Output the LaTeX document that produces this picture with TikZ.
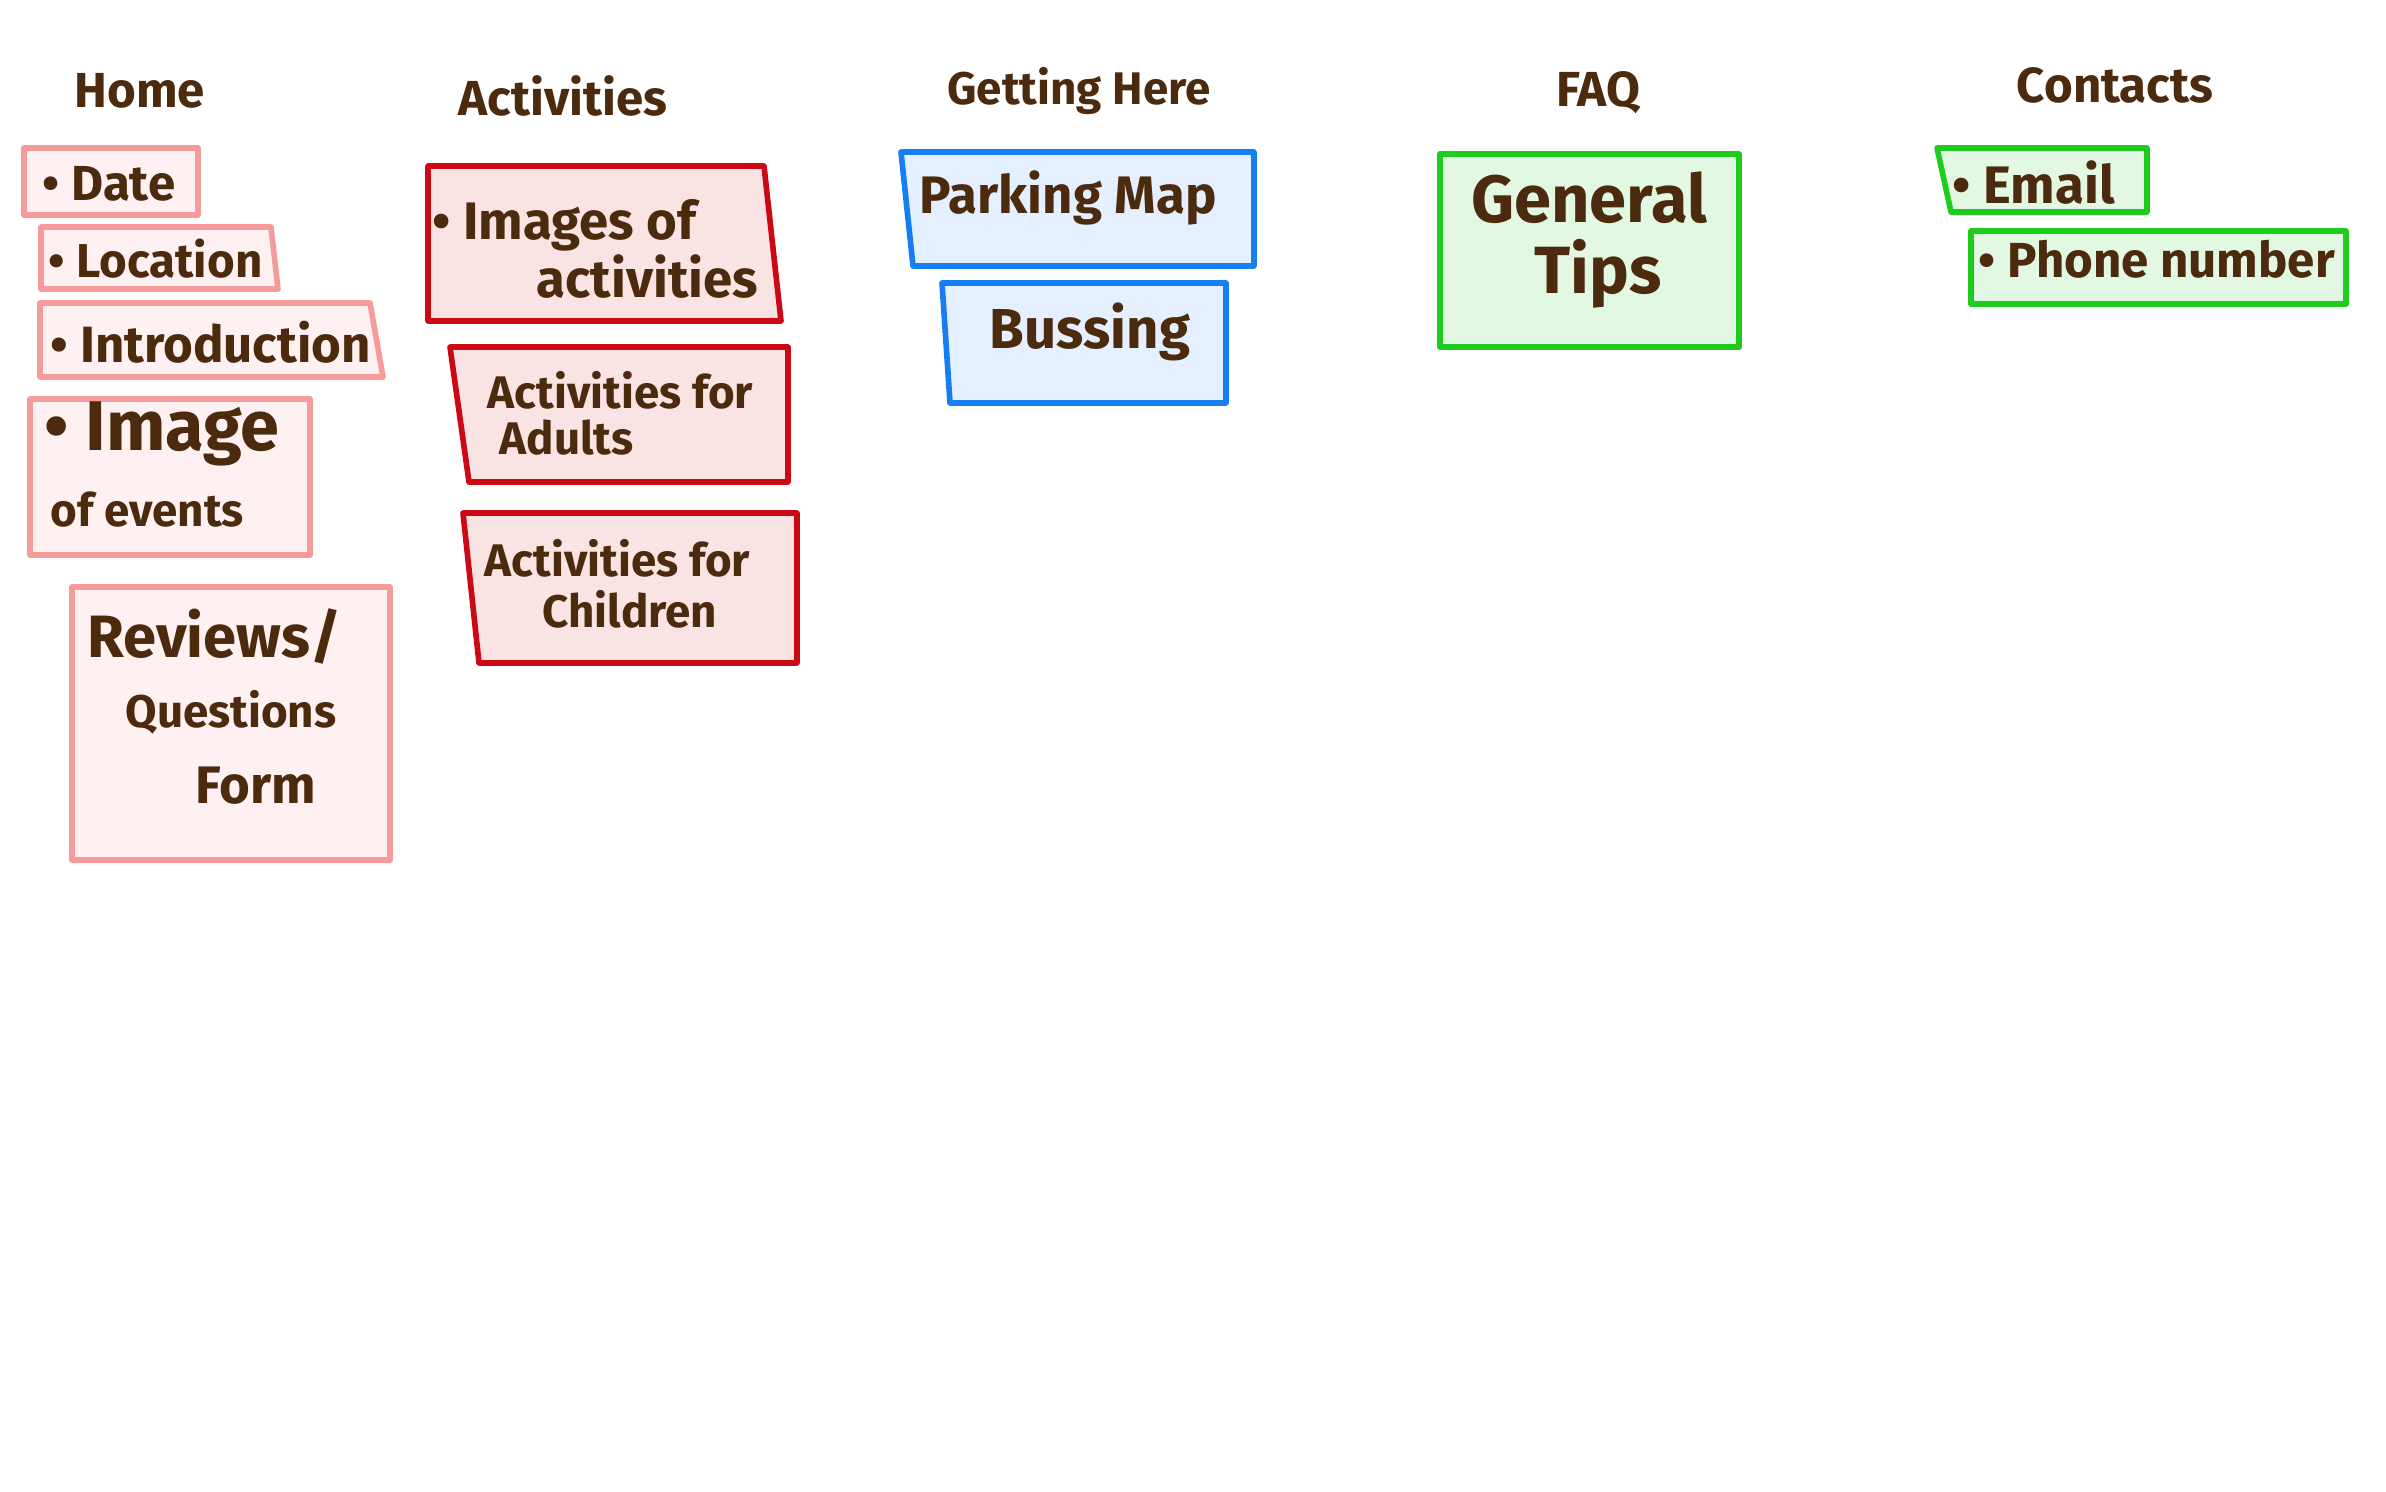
\documentclass[tikz,border=0pt]{standalone}
\usepackage{fontspec}
\setmainfont{Fira Sans}
\definecolor{ink}{RGB}{75,42,14}
\definecolor{homeline}{RGB}{246,154,154}
\definecolor{homefill}{RGB}{255,241,241}
\definecolor{actline}{RGB}{204,8,20}
\definecolor{actfill}{RGB}{249,227,227}
\definecolor{getline}{RGB}{22,126,240}
\definecolor{getfill}{RGB}{228,240,255}
\definecolor{grnline}{RGB}{30,204,30}
\definecolor{grnfill}{RGB}{227,248,227}
\tikzset{
  box/.style={line width=1.6pt, line join=round},
  homebox/.style={box, draw=homeline, fill=homefill},
  actbox/.style={box, draw=actline, fill=actfill},
  getbox/.style={box, draw=getline, fill=getfill},
  grnbox/.style={box, draw=grnline, fill=grnfill},
  txt/.style={text=ink, font=\bfseries, inner sep=0pt},
  ttl/.style={txt, font=\bfseries\fontsize{14}{16}\selectfont},
  fs/.style={font=\bfseries\fontsize{#1}{#1}\selectfont}
}
\begin{document}
\begin{tikzpicture}[x=0.01cm, y=-0.01cm]
\useasboundingbox (0,0) rectangle (2386,1491);

% titles
\node[ttl] (tHome) at (140,91) {Home};
\node[ttl] (tAct) at (563,96) {Activities};
\node[ttl, fs=13] (tGet) at (1079,91) {Getting Here};
\node[ttl] (tFAQ) at (1598,93) {FAQ};
\node[ttl] (tCon) at (2115,85) {Contacts};

% Home column
\path[homebox] (24,148) -- (198,148) -- (198,215) -- (24,215) -- cycle;
\node[txt, fs=14, anchor=west] (date) at (42,184) {• Date};
\path[homebox] (41,227) -- (271,227) -- (278,289) -- (41,289) -- cycle;
\node[txt, fs=13.5, anchor=west] (loc) at (48,259) {• Location};
\path[homebox] (40,303) -- (370,303) -- (383,377) -- (40,377) -- cycle;
\node[txt, fs=14.5, anchor=west] (intro) at (50,342) {• Introduction};
\path[homebox] (30,399) -- (310,399) -- (310,555) -- (30,555) -- cycle;
\node[txt, fs=20, anchor=west] (img) at (44,434) {• Image};
\node[txt, fs=13, anchor=west] (imgb) at (50,510) {of events};
\path[homebox] (72,587) -- (390,587) -- (390,860) -- (72,860) -- cycle;
\node[txt, fs=17, anchor=west] (rev) at (87,636) {Reviews/};
\node[txt, fs=13, anchor=west] (que) at (125,712) {Questions};
\node[txt, fs=15, anchor=west] (form) at (195,786) {Form};

% Activities column
\path[actbox] (428,166) -- (764,166) -- (781,321) -- (428,321) -- cycle;
\node[txt, fs=15, anchor=west] (ia1) at (432,225) {• Images of};
\node[txt, fs=15, anchor=west] (ia2) at (536,277) {activities};
\path[actbox] (450,347) -- (788,347) -- (788,482) -- (469,482) -- cycle;
\node[txt, fs=13, anchor=west] (ad1) at (487,390) {Activities for};
\node[txt, fs=13, anchor=west] (ad2) at (499,438) {Adults};
\path[actbox] (463,513) -- (797,513) -- (797,663) -- (479,663) -- cycle;
\node[txt, fs=13, anchor=west] (ch1) at (484,558) {Activities for};
\node[txt, fs=13, anchor=west] (ch2) at (542,609) {Children};

% Getting here column
\path[getbox] (901,152) -- (1254,152) -- (1254,266) -- (913,266) -- cycle;
\node[txt, fs=15, anchor=west] (park) at (919,198) {Parking Map};
\path[getbox] (942,283) -- (1226,283) -- (1226,403) -- (950,403) -- cycle;
\node[txt, fs=16] (bus) at (1090,332) {Bussing};

% FAQ column
\path[grnbox] (1440,154) -- (1739,154) -- (1739,347) -- (1440,347) -- cycle;
\node[txt, fs=19] (gen) at (1589,198) {General};
\node[txt, fs=19] (tips) at (1598,274) {Tips};

% Contacts column
\path[grnbox] (1937,148) -- (2147,148) -- (2147,212) -- (1951,212) -- cycle;
\node[txt, fs=15, anchor=west] (email) at (1952,183) {• Email};
\path[grnbox] (1971,231) -- (2346,231) -- (2346,304) -- (1971,304) -- cycle;
\node[txt, fs=14, anchor=west] (phone) at (1978,259) {• Phone number};
\end{tikzpicture}
\end{document}
